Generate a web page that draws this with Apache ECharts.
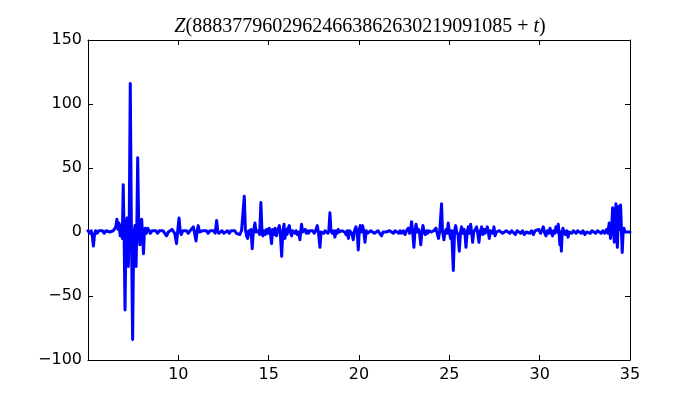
<!DOCTYPE html>
<html>
<head>
<meta charset="utf-8">
<script src="https://cdn.jsdelivr.net/npm/echarts@6/dist/echarts.min.js"></script>
<style>html,body{margin:0;padding:0;background:#fff}#c{width:700px;height:400px}</style>
</head>
<body>
<div id="c"></div>
<script>
const titleNumber = "88837796029624663862630219091085";
const xTicks = [5, 10, 15, 20, 25, 30, 35];
const yTicks = [-100, -50, 0, 50, 100, 150];
const tValues = [
5.0,5.1,5.18,5.24,5.3,5.36,5.42,5.5,5.6,5.7,5.8,5.9,6.0,6.1,6.2,6.3,6.4,6.48,
6.54,6.6,6.66,6.72,6.78,6.84,6.9,6.95,7.0,7.05,7.1,7.16,7.23,7.28,7.34,7.4,7.47,7.53,7.6,7.66,7.7,7.75,7.81,7.87,7.92,7.97,8.02,8.07,8.12,8.17,8.23,8.3,8.38,8.45,8.55,8.65,8.75,8.85,8.95,9.05,9.15,9.25,9.35,9.45,9.55,9.65,9.72,9.8,9.9,9.96,10.04,10.1,10.16,10.25,10.35,10.45,10.55,10.65,10.75,10.83,10.9,10.98,11.04,11.1,11.17,11.25,11.35,11.45,11.55,11.65,11.75,11.85,11.95,12.04,12.12,12.18,12.24,12.32,12.42,12.52,12.62,12.72,12.82,12.92,13.02,13.12,13.22,13.32,13.4,13.5,13.58,13.65,13.71,13.78,13.84,13.9,13.96,14.02,14.09,14.15,14.24,14.3,14.36,14.42,14.5,14.57,14.63,14.68,14.75,14.82,14.88,14.95,15.03,15.09,15.16,15.22,15.3,15.36,15.43,15.5,15.59,15.65,15.72,15.78,15.85,15.9,15.96,16.02,16.08,16.14,16.2,16.27,16.33,16.4,16.46,16.52,16.58,16.65,16.73,16.78,16.82,16.88,16.95,17.02,17.08,17.14,17.2,17.28,17.36,17.44,17.52,17.6,17.69,17.75,17.84,17.9,17.97,18.05,18.12,18.2,18.28,18.33,18.39,18.45,18.52,18.6,18.67,18.73,18.8,18.85,18.92,19.0,19.06,19.13,19.2,19.28,19.35,19.41,19.48,19.54,19.6,19.68,19.75,19.83,19.9,19.96,20.02,20.07,20.13,20.2,20.27,20.33,20.4,20.47,20.55,20.65,20.75,20.85,20.95,21.05,21.15,21.25,21.33,21.42,21.5,21.6,21.7,21.8,21.9,22.0,22.1,22.2,22.27,22.35,22.45,22.55,22.63,22.73,22.8,22.86,22.91,22.97,23.04,23.1,23.16,23.22,23.3,23.36,23.42,23.48,23.54,23.6,23.67,23.74,23.8,23.87,23.93,24.0,24.07,24.14,24.2,24.26,24.33,24.4,24.47,24.53,24.57,24.62,24.7,24.76,24.82,24.88,24.94,25.0,25.07,25.13,25.22,25.29,25.35,25.41,25.48,25.55,25.62,25.68,25.75,25.82,25.87,25.92,25.99,26.05,26.11,26.18,26.23,26.29,26.35,26.42,26.51,26.57,26.64,26.7,26.79,26.85,26.92,26.98,27.04,27.1,27.16,27.21,27.28,27.35,27.41,27.47,27.53,27.6,27.68,27.76,27.85,27.95,28.05,28.15,28.25,28.35,28.45,28.55,28.65,28.75,28.85,28.95,29.05,29.15,29.25,29.35,29.45,29.55,29.65,29.75,29.85,29.95,30.05,30.12,30.2,30.28,30.35,30.42,30.5,30.57,30.64,30.71,30.78,30.84,30.9,30.96,31.03,31.08,31.12,31.16,31.2,31.25,31.29,31.35,31.42,31.5,31.57,31.63,31.7,31.78,31.86,31.94,32.02,32.1,32.2,32.3,32.4,32.5,32.6,32.7,32.8,32.9,33.0,33.1,33.2,33.3,33.4,33.5,33.6,33.71,33.78,33.85,33.92,33.98,34.04,34.1,34.13,34.18,34.22,34.26,34.3,34.34,34.37,34.42,34.48,34.53,34.57,34.62,34.66,34.72,34.8,34.9,35.0
];
const zValues = [
1,-1,1,-3,-11,-2,1,-1,1,0,1,-1,1,2,0,-1,1,0,
4,10,2,7,-3,5,-5,37,-4,-61,-3,11,-27,2,116,5,-84,-2,5,-27,0,58,2,-10,3,10,-2,-17,-1,3,-1,3,1,-1,1,0,1,-1,1,0,1,-1,-3,0,1,2,3,-1,-9,0,11,1,-2,1,0,1,-1,1,0,4,-1,-7,1,5,0,-1,1,0,1,-1,1,0,1,-1,9,1,-1,0,1,-1,0,1,-1,1,0,1,-1,0,-2,1,2,28,2,-3,-5,1,-2,2,-13,0,7,0,-1,1,-2,23,0,-3,1,-2,2,-1,3,0,-9,2,-2,3,-3,1,5,-2,-19,0,6,-5,2,-2,3,5,0,-3,1,2,-1,1,-2,0,-6,1,6,0,-1,2,-1,1,-1,1,0,1,-1,1,5,0,-12,0,1,-1,1,0,-1,1,15,1,-1,1,-4,1,-1,2,0,-1,1,2,0,-2,1,-5,1,2,-1,-6,1,4,0,-14,2,5,0,5,0,-8,1,-1,0,1,0,-1,0,1,-1,-3,0,1,0,-1,1,0,-1,1,0,-1,1,-1,1,-2,1,3,-1,2,8,0,-12,1,6,0,2,-2,-10,0,5,0,-2,1,-1,1,2,0,-1,1,0,3,-1,-5,1,1,22,1,-6,0,2,-1,7,0,-5,1,-30,1,5,0,-2,-15,0,4,-1,2,-2,-12,0,4,-1,6,0,-8,0,1,4,-1,-8,0,4,-2,2,-1,1,4,0,-5,1,2,-1,4,-3,0,-1,1,0,-1,0,1,0,-1,1,0,-2,1,0,-1,1,-2,0,1,-1,1,-2,1,0,2,-1,1,4,-1,-3,1,-1,3,0,-3,1,-1,4,0,6,-2,-10,0,-15,0,3,0,-2,1,-4,0,1,-1,1,0,-1,1,0,-1,1,-2,0,1,-1,1,0,-1,1,0,-1,1,-1,2,-1,7,-5,2,19,0,-8,5,22,0,-12,4,20,2,21,0,-16,0,3,0,1,0,0
];

const data = tValues.map((t, i) => [t, zValues[i]]);
const chart = echarts.init(document.getElementById('c'), null, {renderer: 'canvas'});
const labelFont = {fontFamily: 'DejaVu Sans', fontSize: 16, color: '#000'};
const minusFmt = v => String(v).replace('-', '\u2212');
const axisCommon = {
  axisLine: {show: true, onZero: false, lineStyle: {color: '#000', width: 1}},
  axisTick: {show: true, inside: true, length: 5, lineStyle: {color: '#000', width: 1}},
  splitLine: {show: false}
};
chart.setOption({
  animation: false,
  backgroundColor: '#fff',
  title: {
    text: '{i|Z}(' + titleNumber + ' + {i|t})',
    left: 355,
    textAlign: 'center',
    top: 12,
    textStyle: {
      fontFamily: 'Liberation Serif', fontSize: 20, fontWeight: 'normal', color: '#000',
      rich: {i: {fontFamily: 'Liberation Serif', fontStyle: 'italic', fontSize: 20, color: '#000'}}
    }
  },
  grid: {left: 88, right: 70, top: 40, bottom: 40, containLabel: false},
  xAxis: [
    Object.assign({type: 'value', min: xTicks[0], max: xTicks[xTicks.length-1], interval: 5, position: 'bottom',
      axisLabel: Object.assign({margin: 7, showMinLabel: false, formatter: minusFmt}, labelFont)}, axisCommon),
    Object.assign({type: 'value', min: xTicks[0], max: xTicks[xTicks.length-1], interval: 5, position: 'top',
      axisLabel: {show: false}}, axisCommon)
  ],
  yAxis: [
    Object.assign({type: 'value', min: yTicks[0], max: yTicks[yTicks.length-1], interval: 50, position: 'left',
      axisLabel: Object.assign({margin: 6, formatter: minusFmt}, labelFont)}, axisCommon),
    Object.assign({type: 'value', min: yTicks[0], max: yTicks[yTicks.length-1], interval: 50, position: 'right',
      axisLabel: {show: false}}, axisCommon)
  ],
  series: [{
    type: 'line',
    data: data,
    xAxisIndex: 0, yAxisIndex: 0,
    showSymbol: false,
    symbol: 'none',
    lineStyle: {color: '#0000ff', width: 3, join: 'round', cap: 'round'},
    clip: true
  }]
});
</script>
</body>
</html>
